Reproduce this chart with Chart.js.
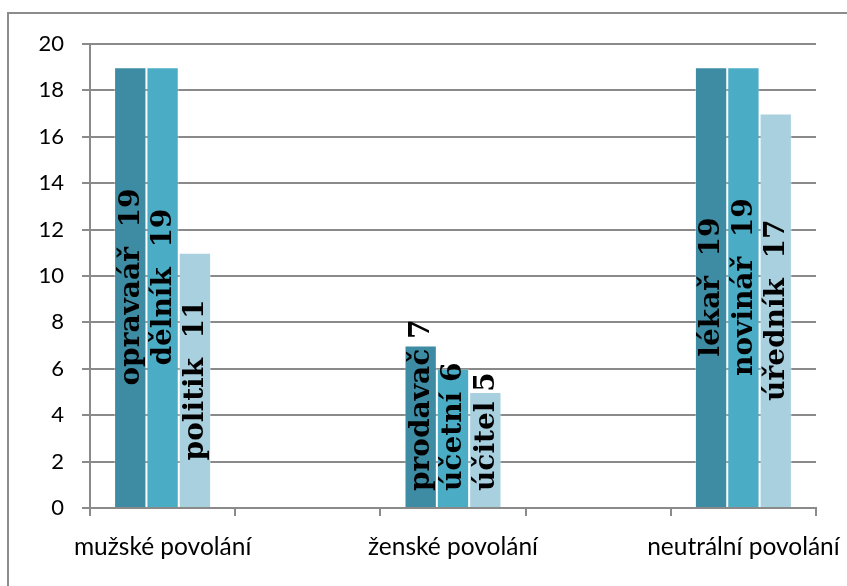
<!DOCTYPE html>
<html>
<head>
<meta charset="utf-8">
<script src="https://cdn.jsdelivr.net/npm/chart.js@4.4.1/dist/chart.umd.min.js"></script>
<style>
  html, body { margin: 0; padding: 0; background: #ffffff; }
  #wrap { position: relative; width: 847px; height: 586px; }
  canvas { display: block; }
</style>
</head>
<body>
<div id="wrap"><canvas id="c" width="847" height="586"></canvas></div>
<script>
// Occupation groups (empty slots keep the groups spaced apart)
const categories = ['mužské povolání', '', 'ženské povolání', '', 'neutrální povolání'];

// Counts per occupation, one series per position inside each group
const seriesA = [19, null, 7, null, 19];
const seriesB = [19, null, 6, null, 19];
const seriesC = [11, null, 5, null, 17];

// Occupation names shown inside the bars
const namesA = ['opravaář ', '', 'prodavač', '', 'lékař '];
const namesB = ['dělník ', '', 'účetní', '', 'novinář '];
const namesC = ['politik ', '', 'účitel', '', 'úředník '];

const yTicks = [0, 2, 4, 6, 8, 10, 12, 14, 16, 18, 20];

const GRID = '#8a8a8a';
const LABEL_FONT = 'bold 28px "DejaVu Serif"';

// Outer frame of the chart (only top and left edges fall inside the canvas)
const framePlugin = {
  id: 'frame',
  beforeDraw(chart) {
    const ctx = chart.ctx;
    ctx.save();
    ctx.strokeStyle = '#8c8c8c';
    ctx.lineWidth = 2;
    ctx.strokeRect(8, 13, 900, 700);
    ctx.restore();
  }
};

// Vertical "name  value" labels drawn inside each bar
const barLabelPlugin = {
  id: 'barLabels',
  afterDatasetsDraw(chart) {
    const ctx = chart.ctx;
    const area = chart.chartArea;
    ctx.save();
    ctx.font = LABEL_FONT;
    ctx.fillStyle = '#000000';
    ctx.textAlign = 'center';
    ctx.textBaseline = 'middle';
    chart.data.datasets.forEach((ds, di) => {
      const meta = chart.getDatasetMeta(di);
      meta.data.forEach((bar, i) => {
        const v = ds.data[i];
        if (v === null || v === undefined) return;
        const text = ds.names[i] + ' ' + v;
        const len = ctx.measureText(text).width;
        let cy = (bar.y + bar.base) / 2;
        const maxBottom = area.bottom - 17;
        if (cy + len / 2 > maxBottom) cy = maxBottom - len / 2;
        ctx.save();
        ctx.translate(bar.x + 1, cy);
        ctx.rotate(-Math.PI / 2);
        ctx.fillText(text, 0, 0);
        ctx.restore();
      });
    });
    ctx.restore();
  }
};

const makeSet = (data, names, color) => ({
  data: data,
  names: names,
  backgroundColor: color,
  borderColor: 'rgba(255,255,255,0.35)',
  borderWidth: 1,
  borderSkipped: 'bottom',
  categoryPercentage: 0.668,
  barPercentage: 1.0
});

new Chart(document.getElementById('c'), {
  type: 'bar',
  data: {
    labels: categories,
    datasets: [
      makeSet(seriesA, namesA, '#3d8ca3'),
      makeSet(seriesB, namesB, '#4bacc6'),
      makeSet(seriesC, namesC, '#a8d0df')
    ]
  },
  options: {
    responsive: false,
    animation: false,
    devicePixelRatio: 1,
    layout: { padding: { left: 0, right: 31, top: 44, bottom: 0 } },
    plugins: {
      legend: { display: false },
      tooltip: { enabled: false }
    },
    scales: {
      x: {
        offset: true,
        grid: {
          offset: true,
          drawOnChartArea: false,
          drawTicks: true,
          tickLength: 8,
          color: GRID,
          lineWidth: 2
        },
        border: { color: GRID, width: 2 },
        ticks: {
          color: '#000000',
          font: { family: 'Lato', size: 24.5 },
          padding: 16,
          maxRotation: 0,
          autoSkip: false
        },
        afterFit(scale) {
          scale.height = 78;
          scale.paddingLeft = 0;
          scale.paddingRight = 0;
        }
      },
      y: {
        min: 0,
        max: 20,
        afterBuildTicks(scale) { scale.ticks = yTicks.map(v => ({ value: v })); },
        grid: {
          color: GRID,
          lineWidth: 2,
          drawTicks: true,
          tickLength: 8
        },
        border: { color: GRID, width: 2 },
        ticks: {
          color: '#000000',
          font: { family: 'Lato', size: 22 },
          padding: 18
        },
        afterFit(scale) { scale.width = 90; }
      }
    }
  },
  plugins: [framePlugin, barLabelPlugin]
});
</script>
</body>
</html>
